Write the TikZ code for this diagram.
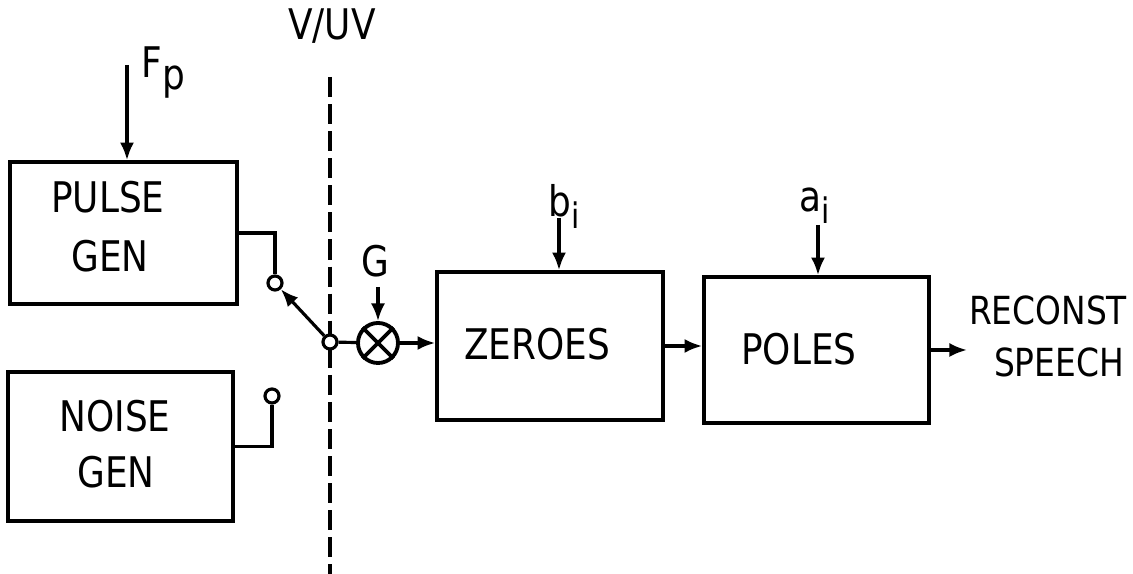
\documentclass[tikz,border=0pt]{standalone}
\usepackage{fontspec}
\newfontfamily\lab{DejaVu Sans}[FakeStretch=0.85]
\usetikzlibrary{arrows.meta}
\begin{document}
\begin{tikzpicture}[x=0.01cm,y=-0.01cm, line width=0.9pt,
  blk/.style={draw, line width=1pt, inner sep=0},
  txt/.style={font=\lab\fontsize{12}{14}\selectfont, inner sep=0, anchor=base},
  stxt/.style={font=\lab\fontsize{11}{13}\selectfont, inner sep=0, anchor=base},
  arr/.style={-{Latex[length=5pt,width=4pt]}},
  term/.style={circle, draw, fill=white, minimum size=0.14cm, inner sep=0, line width=0.9pt},
  vline/.style={line width=1pt, dash pattern=on 5.7pt off 2pt}]
\useasboundingbox (0,0) rectangle (1133,574);

% blocks
\node[blk, minimum width=2.27cm, minimum height=1.42cm] (pulse) at (123.5,233) {};
\node[blk, minimum width=2.25cm, minimum height=1.49cm] (noise) at (120.5,446.5) {};
\node[blk, minimum width=2.26cm, minimum height=1.48cm] (zer) at (550,346) {};
\node[blk, minimum width=2.25cm, minimum height=1.46cm] (pol) at (816.5,350) {};

% block texts
\node[txt] (pulse1) at (108,213) {PULSE};
\node[txt] (pulse2) at (110,272) {GEN};
\node[txt] (noise1) at (115,432) {NOISE};
\node[txt] (noise2) at (116,488) {GEN};
\node[txt] (zert) at (537,360) {ZEROES};
\node[txt] (polt) at (799,365) {POLES};

% V/UV dashed line
\coordinate (vt) at (330,77);
\coordinate (vb) at (330,574);
\draw[vline] (vt) -- (vb);
\node[txt] (vuv) at (332,40) {V/UV};

% switch terminals
\node[term] (c1) at (275,283) {};
\node[term] (c2) at (272,396) {};
\node[term] (piv) at (330,342) {};

% multiplier
\node[circle, draw, minimum size=0.4cm, inner sep=0, line width=1.1pt] (mul) at (378,343) {};
\draw[line width=1.1pt] (mul.north west) -- (mul.south east);
\draw[line width=1.1pt] (mul.north east) -- (mul.south west);
\node[txt] (g) at (375,277) {G};
\coordinate (gtop) at (378,287);
\draw[arr] (gtop) -- (mul.north);

% Fp input
\coordinate (fp) at (127,65);
\draw[arr] (fp) -- (fp |- pulse.north);
\node[txt, anchor=base west] (fpl) at (140,78) {F\raisebox{-0.5ex}{p}};

% connections
\draw (pulse.east) -| (c1.north);
\draw (noise.east) -| (c2.south);
\draw[arr] (piv) -- (c1);
\draw (piv) -- (mul);
\draw[arr] (mul) -- (mul -| zer.west);
\draw[arr] (zer.east) -- (zer.east -| pol.west);
\coordinate (out) at (967,350);
\draw[arr] (pol.east) -- (out);

% coefficient inputs
\coordinate (bt) at (559,218);
\draw[arr] (bt) -- (bt |- zer.north);
\node[txt, anchor=base west] (bl) at (547,217) {b\raisebox{-0.5ex}{\fontsize{10}{10}\selectfont i}};
\coordinate (at) at (818,225);
\draw[arr] (at) -- (at |- pol.north);
\node[txt, anchor=base west] (al) at (798,212) {a\raisebox{-0.5ex}{\fontsize{10}{10}\selectfont i}};

% output label
\node[stxt] (rec1) at (1048,325) {RECONST};
\node[stxt] (rec2) at (1059,377) {SPEECH};
\end{tikzpicture}
\end{document}
